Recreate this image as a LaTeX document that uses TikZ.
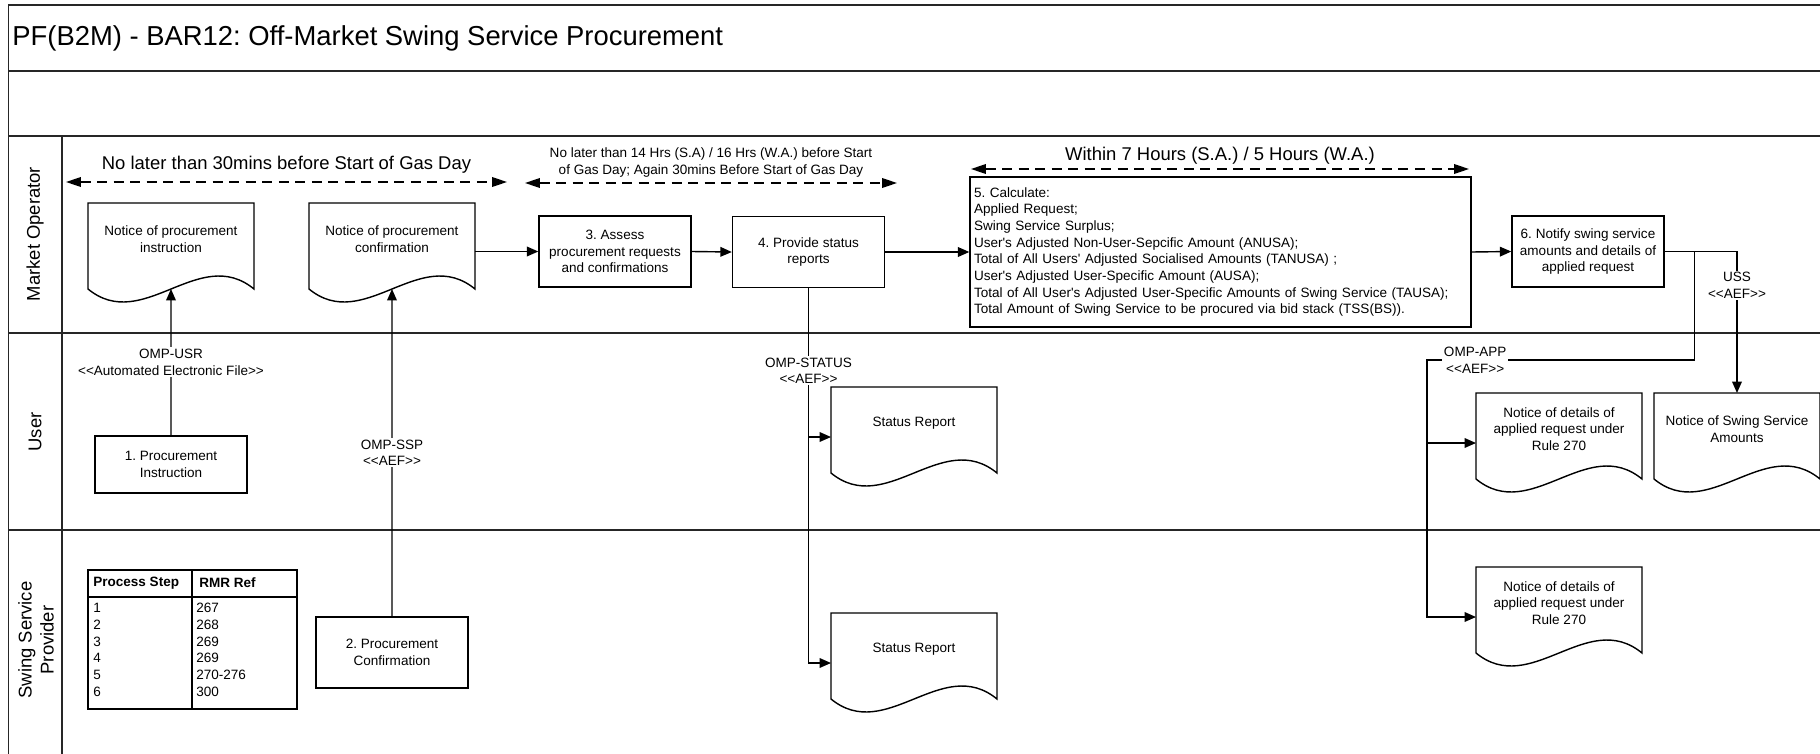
\documentclass[tikz,border=0pt]{standalone}
\usepackage{fontspec}
\setmainfont{Liberation Sans}[Ligatures=TeXOff]
\usetikzlibrary{arrows.meta}

\newcommand{\smalltxt}{\fontsize{7.7pt}{9.5pt}\selectfont}
\newcommand{\bigtxt}{\fontsize{10.5pt}{12.6pt}\selectfont}
\newcommand{\titletxt}{\fontsize{15.6pt}{18pt}\selectfont}

\tikzset{
  laneline/.style={line width=1pt, draw=black!85},
  wire/.style={line width=0.8pt},
  conn/.style={line width=0.8pt, -{Triangle[length=6.5pt,width=5.5pt]}},
  timing/.style={line width=0.8pt, dash pattern=on 5.7pt off 3.7pt,
    {Triangle[length=8.5pt,width=5.5pt]}-{Triangle[length=8.5pt,width=5.5pt]}},
  procbox/.style={draw, line width=0.8pt, align=center, font=\smalltxt,
    minimum width=3.04cm, minimum height=1.42cm, inner sep=1pt},
  docnode/.style={anchor=north west, align=center, font=\smalltxt,
    minimum width=3.32cm, minimum height=1.44cm, inner sep=0pt, outer sep=0pt},
  flowlbl/.style={fill=white, align=center, font=\smalltxt, inner sep=1pt},
  timelbl/.style={align=center, inner sep=0pt},
  lanelbl/.style={rotate=90, align=center, font=\bigtxt},
  cell/.style={anchor=west, font=\smalltxt, inner sep=0pt},
  tblline/.style={line width=1pt}
}

\begin{document}
\frenchspacing
\begin{tikzpicture}[x=0.02cm, y=-0.02cm]
  \useasboundingbox (0,0) rectangle (1820,754);
  \fill[white] (0,0) rectangle (1820,754);

  \draw[laneline] (8.5,754) -- (8.5,5) -- (1820,5);
  \foreach \y in {71,136,333,530}{
    \draw[laneline] (8.5,\y) -- (1820,\y);
  }
  \draw[laneline] (62,136) -- (62,754);

  \node[anchor=west, inner sep=0pt, font=\titletxt] (title) at (12,38)
    {PF(B2M) - BAR12: Off-Market Swing Service Procurement};

  \node[lanelbl] (laneMO) at (35,234) {Market Operator};
  \node[lanelbl] (laneUS) at (35,432) {User};
  \node[lanelbl] (laneSS) at (36,640) {Swing Service\\Provider};

  % timing bars
  \coordinate (w1a) at (66,182);
  \coordinate (w1b) at (507,182);
  \coordinate (w2a) at (525,183);
  \coordinate (w2b) at (897,183);
  \coordinate (w3a) at (971,169);
  \coordinate (w3b) at (1469,169);
  \draw[timing] (w1a) -- node[timelbl, font=\bigtxt, yshift=9.7pt] (t1)
    {No later than 30mins before Start of Gas Day} (w1b);
  \draw[timing] (w2a) -- node[timelbl, font=\smalltxt, yshift=11.7pt] (t2)
    {No later than 14 Hrs (S.A) / 16 Hrs (W.A.) before Start\\of Gas Day; Again 30mins Before Start of Gas Day} (w2b);
  \draw[timing] (w3a) -- node[timelbl, font=\bigtxt, yshift=7.7pt] (t3)
    {Within 7 Hours (S.A.) / 5 Hours (W.A.)} (w3b);

  % process steps
  \node[procbox, minimum height=1.14cm] (box1) at (171,464.5) {1. Procurement\\Instruction};
  \node[procbox] (box2) at (392,652.5) {2. Procurement\\Confirmation};
  \node[procbox] (box3) at (615,251.5) {3. Assess\\procurement requests\\and confirmations};
  \node[procbox] (box4) at (808.5,252) {4. Provide status\\reports};
  \node[procbox, align=left, text width=9.86cm, inner xsep=0.08cm, minimum height=3cm] (box5) at (1220.5,252)
    {5. Calculate:\\
     Applied Request;\\
     Swing Service Surplus;\\
     User's Adjusted Non-User-Sepcific Amount (ANUSA);\\
     Total of All Users' Adjusted Socialised Amounts (TANUSA) ;\\
     User's Adjusted User-Specific Amount (AUSA);\\
     Total of All User's Adjusted User-Specific Amounts of Swing Service (TAUSA);\\
     Total Amount of Swing Service to be procured via bid stack (TSS(BS)).};
  \node[procbox] (box6) at (1588,251.5) {6. Notify swing service\\amounts and details of\\applied request};

  % documents
  \node[docnode] (docA) at (88,203) {Notice of procurement\\instruction};
  \node[docnode] (docB) at (309,203) {Notice of procurement\\confirmation};
  \node[docnode] (docS1) at (831,387) {Status Report};
  \node[docnode] (docS2) at (831,613) {Status Report};
  \node[docnode] (docU) at (1476,393) {Notice of details of\\applied request under\\Rule 270};
  \node[docnode] (docSSA) at (1654,393) {Notice of Swing Service\\Amounts};
  \node[docnode] (docP) at (1476,567) {Notice of details of\\applied request under\\Rule 270};

  \foreach \d in {docA,docB,docS1,docS2,docU,docSSA,docP}{
    \draw[wire] (\d.north west) -- ++(0,86) .. controls +(55,45) and +(-55,-45) .. ++(166,0) -- (\d.north east) -- cycle;
    \path (\d.north west) ++(0,50) coordinate (\d-in);
    \path (\d.north) ++(0,86) coordinate (\d-b);
  }

  % flows
  \draw[conn] (box1.north) -- node[flowlbl] (fUSR) {OMP-USR\\<<Automated Electronic File>>} (docA-b);
  \draw[conn] (box2.north) -- node[flowlbl] (fSSP) {OMP-SSP\\<<AEF>>} (docB-b);
  \draw[conn] (docB.east |- box3.west) -- (box3.west);
  \draw[conn] (box3.east) -- (box4.west);
  \draw[conn] (box4.east) -- (box5.west);
  \draw[conn] (box5.east) -- (box6.west);

  \draw[conn] (box4.south) |- node[flowlbl, pos=0.11] (fSTAT) {OMP-STATUS\\<<AEF>>} (docS2-in);
  \draw[conn] (box4.south |- docS1-in) -- (docS1-in);

  \draw[conn] (box6.east) -| node[flowlbl, pos=0.62] (fUSS) {USS\\<<AEF>>} (docSSA.north);
  \path (box6.east) ++(30,0) coordinate (j6);
  \coordinate (bendA) at (1427,360);
  \draw[conn] (j6) |- node[flowlbl, pos=0.91] (fAPP) {OMP-APP\\<<AEF>>} (bendA) |- (docP-in);
  \draw[conn] (bendA |- docU-in) -- (docU-in);

  % reference table
  \begin{scope}[shift={(88,570)}]
    \draw[tblline] (0,0) rectangle (209,139);
    \draw[tblline] (0,27) -- (209,27);
    \draw[tblline] (104,0) -- (104,139);
    \node[cell, font=\smalltxt\bfseries] (hdStep) at (5,13) {Process Step};
    \node[cell, font=\smalltxt\bfseries] (hdRef) at (111,13) {RMR Ref};
    \foreach \stepno/\refno [count=\i from 0] in {1/267,2/268,3/269,4/269,5/270-276,6/300}{
      \node[cell] (step\stepno) at (5,{38+16.7*\i}) {\stepno};
      \node[cell] (ref\stepno) at (108,{38+16.7*\i}) {\refno};
    }
  \end{scope}
\end{tikzpicture}
\end{document}
